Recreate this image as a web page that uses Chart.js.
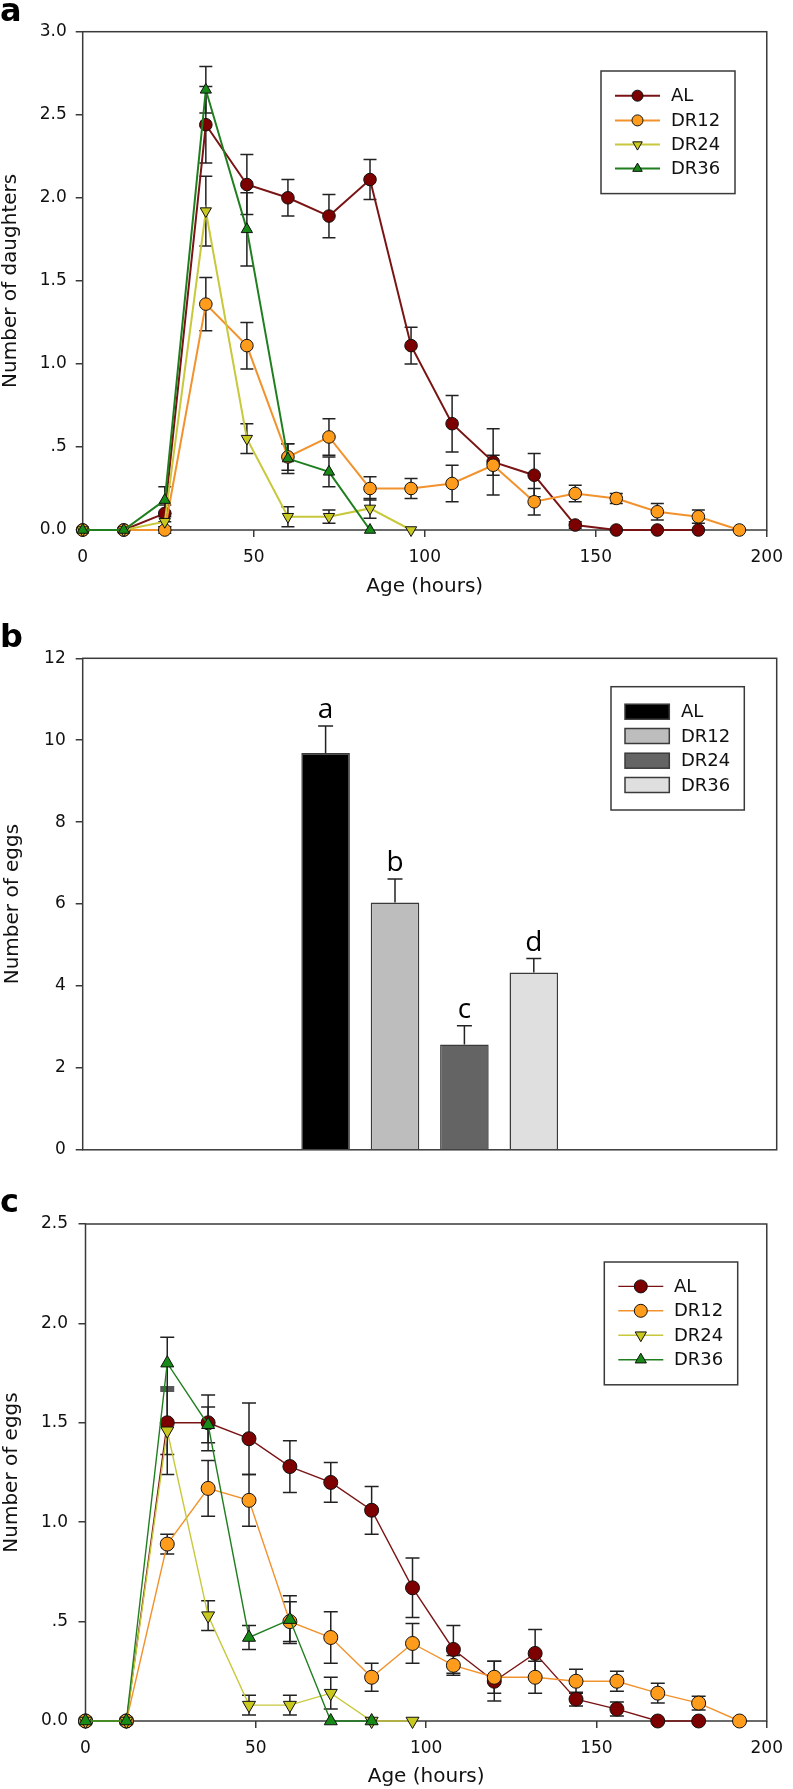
<!DOCTYPE html>
<html>
<head>
<meta charset="utf-8">
<script src="https://cdn.jsdelivr.net/npm/chart.js@4.4.1/dist/chart.umd.min.js"></script>
<style>
  html, body { margin: 0; padding: 0; background: #fff; }
  body { width: 793px; height: 1789px; position: relative; overflow: hidden; }
  canvas { position: absolute; left: 0; }
</style>
</head>
<body>
<canvas id="chartA" width="793" height="600" style="top:0"></canvas>
<canvas id="chartB" width="793" height="570" style="top:600px"></canvas>
<canvas id="chartC" width="793" height="619" style="top:1170px"></canvas>
<script>
// sampling ages (hours) and treatment groups
const ageHours = [0, 12, 24, 36, 48, 60, 72, 84, 96, 108, 120, 132, 144, 156, 168, 180, 192];
const groups = ['AL', 'DR12', 'DR24', 'DR36'];

// a: number of daughters by age
const daughtersAL   = [0, 0, 0.10, 2.44, 2.08, 2.00, 1.89, 2.11, 1.11, 0.64, 0.41, 0.33, 0.03, 0, 0, 0];
const daughtersDR12 = [0, 0, 0, 1.36, 1.11, 0.44, 0.56, 0.25, 0.25, 0.28, 0.39, 0.17, 0.22, 0.19, 0.11, 0.08, 0];
const daughtersDR24 = [0, 0, 0.05, 1.92, 0.55, 0.08, 0.08, 0.13, 0];
const daughtersDR36 = [0, 0, 0.18, 2.65, 1.81, 0.43, 0.35, 0];
const daughtersErrAL   = [0, 0, 0.05, 0.23, 0.18, 0.11, 0.13, 0.12, 0.11, 0.17, 0.20, 0.13, 0.02, 0, 0, 0];
const daughtersErrDR12 = [0, 0, 0.02, 0.16, 0.14, 0.08, 0.11, 0.07, 0.06, 0.11, 0.06, 0.08, 0.05, 0.03, 0.05, 0.04, 0];
const daughtersErrDR24 = [0, 0, 0.03, 0.21, 0.09, 0.06, 0.04, 0.06, 0];
const daughtersErrDR36 = [0, 0, 0.08, 0.14, 0.22, 0.09, 0.09, 0];

// b: total number of eggs
const eggTotals   = [9.69, 6.04, 2.57, 4.33];
const eggTotalErr = [0.66, 0.57, 0.46, 0.34];
const sigLetters  = ['a', 'b', 'c', 'd'];

// c: number of eggs by age
const eggsAL   = [0, 0, 1.50, 1.50, 1.42, 1.28, 1.20, 1.06, 0.67, 0.36, 0.20, 0.34, 0.11, 0.06, 0, 0];
const eggsDR12 = [0, 0, 0.89, 1.17, 1.11, 0.50, 0.42, 0.22, 0.39, 0.28, 0.22, 0.22, 0.20, 0.20, 0.14, 0.09, 0];
const eggsDR24 = [0, 0, 1.46, 0.53, 0.08, 0.08, 0.14, 0, 0];
const eggsDR36 = [0, 0, 1.80, 1.49, 0.42, 0.51, 0, 0];
const eggsErrAL   = [0, 0, 0.16, 0.14, 0.18, 0.13, 0.10, 0.12, 0.15, 0.12, 0.10, 0.12, 0.035, 0.035, 0, 0];
const eggsErrDR12 = [0, 0, 0.05, 0.14, 0.13, 0.10, 0.13, 0.07, 0.10, 0.05, 0.08, 0.08, 0.06, 0.05, 0.05, 0.035, 0];
const eggsErrDR24 = [0, 0, 0.22, 0.075, 0.05, 0.05, 0.08, 0, 0];
const eggsErrDR36 = [0, 0, 0.13, 0.09, 0.06, 0.12, 0, 0];

// styling
const lineColors = ['#7a1414', '#f2922c', '#c8c83c', '#1f7f1f'];
const fillColors = ['#7d0000', '#ff9c1c', '#c8c81e', '#178a17'];
const barColors  = ['#000000', '#bdbdbd', '#646464', '#dfdfdf'];
const pointStyles = ['circle', 'circle', 'triangle', 'triangle'];
const pointRotations = [0, 0, 180, 0];
const frameColor = '#3a3a3a';

Chart.defaults.font.family = "'DejaVu Sans', sans-serif";
Chart.defaults.color = '#111';

function fmtTick(v) {
  if (v === 0) return '0.0';
  if (v < 1) return v.toFixed(1).replace(/^0/, '');
  return v.toFixed(1);
}

function lineSets(series, errs, lw, radius) {
  return series.map((vals, i) => ({
    label: groups[i],
    data: vals.map((v, j) => ({ x: ageHours[j], y: v })),
    errors: errs[i],
    borderColor: lineColors[i],
    backgroundColor: fillColors[i],
    borderWidth: lw,
    pointStyle: pointStyles[i],
    rotation: pointRotations[i],
    pointRadius: radius[i],
    pointBackgroundColor: fillColors[i],
    pointBorderColor: '#111',
    pointBorderWidth: 1,
    tension: 0,
    clip: false,
    order: 3 - i
  }));
}

// box around the plot area
const framePlugin = {
  id: 'frame',
  beforeDatasetsDraw(chart) {
    const { ctx, chartArea: a } = chart;
    ctx.save();
    ctx.strokeStyle = frameColor;
    ctx.lineWidth = 1.5;
    ctx.strokeRect(a.left, a.top, a.right - a.left, a.bottom - a.top);
    ctx.restore();
  }
};

// standard error bars from dataset.errors
const errorBarPlugin = {
  id: 'errorBars',
  beforeDatasetsDraw(chart, args, o) {
    const { ctx } = chart;
    const ys = chart.scales.y;
    ctx.save();
    ctx.strokeStyle = o.color;
    ctx.lineWidth = o.width;
    chart.data.datasets.forEach((ds, i) => {
      const meta = chart.getDatasetMeta(i);
      meta.data.forEach((el, j) => {
        const e = ds.errors[j];
        if (!e) return;
        const v = typeof ds.data[j] === 'object' ? ds.data[j].y : ds.data[j];
        const top = ys.getPixelForValue(v + e);
        const bot = o.upperOnly ? ys.getPixelForValue(v) : ys.getPixelForValue(v - e);
        ctx.beginPath();
        ctx.moveTo(el.x, top); ctx.lineTo(el.x, bot);
        ctx.moveTo(el.x - o.cap, top); ctx.lineTo(el.x + o.cap, top);
        if (!o.upperOnly) { ctx.moveTo(el.x - o.cap, bot); ctx.lineTo(el.x + o.cap, bot); }
        ctx.stroke();
      });
    });
    ctx.restore();
  }
};

function marker(ctx, style, rotation, r, x, y) {
  if (Chart.helpers && Chart.helpers.drawPoint) {
    Chart.helpers.drawPoint(ctx, { pointStyle: style, rotation: rotation, radius: r, borderWidth: 1 }, x, y);
  } else {
    ctx.beginPath(); ctx.arc(x, y, r, 0, Math.PI * 2); ctx.fill(); ctx.stroke();
  }
}

// legend drawn as a framed box inside the plot
const boxLegendPlugin = {
  id: 'boxLegend',
  afterDatasetsDraw(chart, args, o) {
    const { ctx } = chart;
    ctx.save();
    ctx.fillStyle = '#fff';
    ctx.fillRect(o.left, o.top, o.right - o.left, o.bottom - o.top);
    ctx.strokeStyle = frameColor;
    ctx.lineWidth = 1.5;
    ctx.strokeRect(o.left, o.top, o.right - o.left, o.bottom - o.top);
    ctx.font = o.font;
    ctx.textBaseline = 'middle';
    ctx.textAlign = 'left';
    chart.data.datasets.forEach((ds, i) => {
      const yy = o.rows[i];
      if (o.swatch) {
        ctx.fillStyle = ds.backgroundColor;
        ctx.fillRect(o.x1, yy - o.sh / 2, o.x2 - o.x1, o.sh);
        ctx.strokeStyle = frameColor;
        ctx.lineWidth = 1.5;
        ctx.strokeRect(o.x1, yy - o.sh / 2, o.x2 - o.x1, o.sh);
      } else {
        ctx.strokeStyle = ds.borderColor;
        ctx.lineWidth = ds.borderWidth;
        ctx.beginPath(); ctx.moveTo(o.x1, yy); ctx.lineTo(o.x2, yy); ctx.stroke();
        ctx.fillStyle = ds.pointBackgroundColor;
        ctx.strokeStyle = '#111';
        ctx.lineWidth = 1;
        marker(ctx, ds.pointStyle, ds.rotation, o.r, (o.x1 + o.x2) / 2, yy);
      }
      ctx.fillStyle = '#111';
      ctx.fillText(ds.label, o.textX, yy + 1);
    });
    ctx.restore();
  }
};

// panel letter in the corner
const tagPlugin = {
  id: 'tag',
  afterDraw(chart, args, o) {
    const { ctx } = chart;
    ctx.save();
    ctx.font = "bold 32px 'DejaVu Sans'";
    ctx.fillStyle = '#000';
    ctx.textBaseline = 'alphabetic';
    ctx.fillText(o.text, o.x, o.y);
    ctx.restore();
  }
};

// significance letters above the bars
const letterPlugin = {
  id: 'letters',
  afterDatasetsDraw(chart, args, o) {
    const { ctx } = chart;
    const ys = chart.scales.y;
    ctx.save();
    ctx.font = "28px 'Open Sans'";
    ctx.fillStyle = '#000';
    ctx.textAlign = 'center';
    ctx.textBaseline = 'alphabetic';
    chart.data.datasets.forEach((ds, i) => {
      const el = chart.getDatasetMeta(i).data[0];
      const top = ys.getPixelForValue(ds.data[0] + ds.errors[0]);
      ctx.fillText(o.letters[i], el.x, top - 8);
    });
    ctx.restore();
  }
};

const tickGrid = { drawOnChartArea: false, drawTicks: true, tickLength: 7, color: frameColor, lineWidth: 1.5 };
const titleFont = { size: 20, lineHeight: 1 };
const tickFont = { size: 17 };

function xAgeScale(height, titlePad) {
  return {
    type: 'linear', min: 0, max: 200,
    ticks: { stepSize: 50, font: tickFont, padding: 10, maxRotation: 0 },
    grid: tickGrid,
    border: { display: false },
    title: { display: true, text: 'Age (hours)', font: titleFont, padding: { top: 0, bottom: titlePad } },
    afterFit(s) { s.height = height; }
  };
}

function yScale(max, step, title, width, pad, titlePad, fmt) {
  return {
    min: 0, max: max,
    ticks: { stepSize: step, font: tickFont, padding: pad, callback: fmt },
    grid: tickGrid,
    border: { display: false },
    title: { display: true, text: title, font: titleFont, padding: { top: titlePad, bottom: 0 } },
    afterFit(s) { s.width = width; }
  };
}

const common = { responsive: false, animation: false, events: [] };

// ---- panel a
new Chart(document.getElementById('chartA'), {
  type: 'line',
  data: {
    datasets: lineSets([daughtersAL, daughtersDR12, daughtersDR24, daughtersDR36],
                       [daughtersErrAL, daughtersErrDR12, daughtersErrDR24, daughtersErrDR36],
                       2, [6.3, 6.3, 6.5, 6.5])
  },
  options: Object.assign({}, common, {
    layout: { padding: { top: 31.7, right: 17, bottom: 0, left: 0 } },
    scales: {
      x: xAgeScale(70, 3),
      y: yScale(3, 0.5, 'Number of daughters', 82.7, 9, 0.5, fmtTick)
    },
    plugins: {
      legend: { display: false }, tooltip: { enabled: false },
      errorBars: { color: '#222', width: 1.5, cap: 6.5, upperOnly: false },
      boxLegend: { left: 601, top: 71, right: 735, bottom: 193.6, rows: [95.7, 120.4, 144.6, 168.6],
                   x1: 615, x2: 660, r: 5.5, textX: 671, font: "18px 'DejaVu Sans'" },
      tag: { text: 'a', x: 0, y: 20.7 }
    }
  }),
  plugins: [framePlugin, errorBarPlugin, boxLegendPlugin, tagPlugin]
});

// ---- panel b
new Chart(document.getElementById('chartB'), {
  type: 'bar',
  data: {
    labels: [''],
    datasets: groups.map((g, i) => ({
      label: g,
      data: [eggTotals[i]],
      errors: [eggTotalErr[i]],
      backgroundColor: barColors[i],
      borderColor: frameColor,
      borderWidth: 1.5,
      categoryPercentage: 0.4,
      barPercentage: 0.7
    }))
  },
  options: Object.assign({}, common, {
    layout: { padding: { top: 58.3, right: 16.3, bottom: 0, left: 0 } },
    scales: {
      x: {
        ticks: { display: false }, grid: { display: false }, border: { display: false },
        afterFit(s) { s.height = 13.3; }
      },
      y: yScale(12, 2, 'Number of eggs', 82.7, 10, 3, v => String(v))
    },
    plugins: {
      legend: { display: false }, tooltip: { enabled: false },
      errorBars: { color: '#222', width: 1.5, cap: 7.5, upperOnly: true },
      boxLegend: { left: 611, top: 86.7, right: 744.3, bottom: 210, rows: [111.7, 136, 160.7, 185],
                   swatch: true, x1: 625, x2: 669.3, sh: 15, textX: 681, font: "18px 'DejaVu Sans'" },
      letters: { letters: sigLetters },
      tag: { text: 'b', x: 0, y: 46.7 }
    }
  }),
  plugins: [framePlugin, errorBarPlugin, boxLegendPlugin, letterPlugin, tagPlugin]
});

// ---- panel c
new Chart(document.getElementById('chartC'), {
  type: 'line',
  data: {
    datasets: lineSets([eggsAL, eggsDR12, eggsDR24, eggsDR36],
                       [eggsErrAL, eggsErrDR12, eggsErrDR24, eggsErrDR36],
                       1.4, [7, 7, 7.5, 7.5])
  },
  options: Object.assign({}, common, {
    layout: { padding: { top: 54, right: 16, bottom: 0, left: 0 } },
    scales: {
      x: xAgeScale(68, 2),
      y: yScale(2.5, 0.5, 'Number of eggs', 85.5, 10.5, 2, fmtTick)
    },
    plugins: {
      legend: { display: false }, tooltip: { enabled: false },
      errorBars: { color: '#222', width: 1.5, cap: 7, upperOnly: false },
      boxLegend: { left: 604.3, top: 92, right: 737.7, bottom: 214.8, rows: [116.4, 140.8, 165.2, 189.7],
                   x1: 618.3, x2: 663.3, r: 6.5, textX: 674, font: "18px 'DejaVu Sans'" },
      tag: { text: 'c', x: 0, y: 41.7 }
    }
  }),
  plugins: [framePlugin, errorBarPlugin, boxLegendPlugin, tagPlugin]
});
</script>
</body>
</html>
